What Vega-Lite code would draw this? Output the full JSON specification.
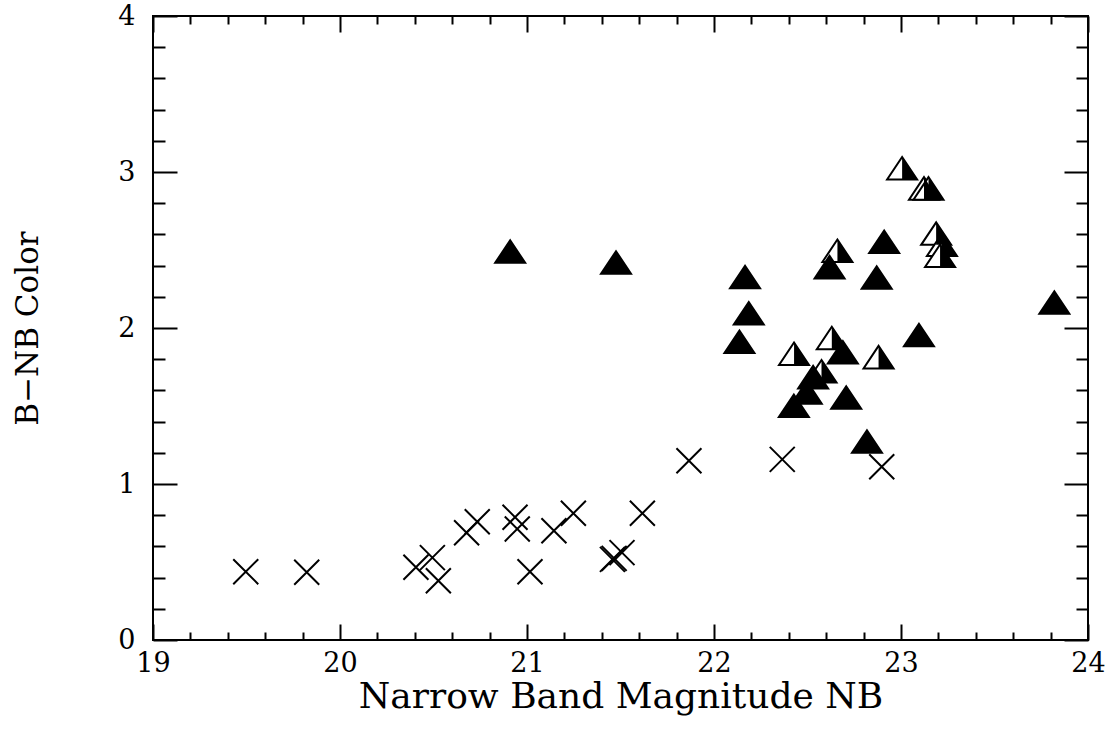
{
  "$schema": "https://vega.github.io/schema/vega-lite/v6.json",
  "width": 935,
  "height": 624,
  "autosize": "none",
  "padding": {"left": 153, "top": 16, "right": 28, "bottom": 95},
  "background": "white",
  "config": {
    "view": {"stroke": "black", "strokeWidth": 2},
    "axis": {"grid": false, "domain": false}
  },
  "data": {
    "values": [
      {"nb": 19.496, "color": 0.438, "type": "cross"},
      {"nb": 19.822, "color": 0.434, "type": "cross"},
      {"nb": 20.406, "color": 0.466, "type": "cross"},
      {"nb": 20.494, "color": 0.528, "type": "cross"},
      {"nb": 20.526, "color": 0.38, "type": "cross"},
      {"nb": 20.677, "color": 0.688, "type": "cross"},
      {"nb": 20.734, "color": 0.758, "type": "cross"},
      {"nb": 20.936, "color": 0.787, "type": "cross"},
      {"nb": 20.948, "color": 0.712, "type": "cross"},
      {"nb": 21.016, "color": 0.438, "type": "cross"},
      {"nb": 21.144, "color": 0.7, "type": "cross"},
      {"nb": 21.248, "color": 0.812, "type": "cross"},
      {"nb": 21.457, "color": 0.517, "type": "cross"},
      {"nb": 21.466, "color": 0.523, "type": "cross"},
      {"nb": 21.508, "color": 0.56, "type": "cross"},
      {"nb": 21.617, "color": 0.812, "type": "cross"},
      {"nb": 21.866, "color": 1.149, "type": "cross"},
      {"nb": 22.365, "color": 1.158, "type": "cross"},
      {"nb": 22.897, "color": 1.111, "type": "cross"},
      {"nb": 23.006, "color": 3.024, "type": "half"},
      {"nb": 23.123, "color": 2.895, "type": "half"},
      {"nb": 23.147, "color": 2.895, "type": "half"},
      {"nb": 23.188, "color": 2.605, "type": "half"},
      {"nb": 23.219, "color": 2.534, "type": "half"},
      {"nb": 23.209, "color": 2.463, "type": "half"},
      {"nb": 22.66, "color": 2.495, "type": "half"},
      {"nb": 22.63, "color": 1.936, "type": "half"},
      {"nb": 22.428, "color": 1.835, "type": "half"},
      {"nb": 22.88, "color": 1.813, "type": "half"},
      {"nb": 22.575, "color": 1.723, "type": "half"},
      {"nb": 20.91, "color": 2.49, "type": "full"},
      {"nb": 21.476, "color": 2.42, "type": "full"},
      {"nb": 22.166, "color": 2.327, "type": "full"},
      {"nb": 22.186, "color": 2.095, "type": "full"},
      {"nb": 22.136, "color": 1.912, "type": "full"},
      {"nb": 22.618, "color": 2.39, "type": "full"},
      {"nb": 22.91, "color": 2.553, "type": "full"},
      {"nb": 22.87, "color": 2.324, "type": "full"},
      {"nb": 23.096, "color": 1.955, "type": "full"},
      {"nb": 23.82, "color": 2.163, "type": "full"},
      {"nb": 22.689, "color": 1.845, "type": "full"},
      {"nb": 22.53, "color": 1.685, "type": "full"},
      {"nb": 22.496, "color": 1.587, "type": "full"},
      {"nb": 22.427, "color": 1.501, "type": "full"},
      {"nb": 22.707, "color": 1.554, "type": "full"},
      {"nb": 22.818, "color": 1.272, "type": "full"}
    ]
  },
  "layer": [
    {
      "transform": [{"filter": "datum.type === 'cross'"}],
      "mark": {"type": "point", "shape": "M-1,-1L1,1M-1,1L1,-1", "filled": false, "color": "black", "strokeWidth": 2, "opacity": 1, "size": 625},
      "encoding": {
        "x": {
          "field": "nb", "type": "quantitative",
          "scale": {"domain": [19, 24], "nice": false, "zero": false},
          "axis": {
            "orient": "bottom", "values": [19, 20, 21, 22, 23, 24], "ticks": false, "domain": false,
            "labelPadding": 10, "labelFont": "DejaVu Serif", "labelFontSize": 27, "labelColor": "black",
            "labelFlush": false, "labelOverlap": false,
            "title": "Narrow Band Magnitude NB", "titleFont": "DejaVu Serif", "titleFontSize": 36,
            "titleFontWeight": "normal", "titleColor": "black", "titlePadding": 3
          }
        },
        "y": {
          "field": "color", "type": "quantitative",
          "scale": {"domain": [0, 4], "nice": false, "zero": false},
          "axis": {
            "orient": "left", "values": [0, 1, 2, 3, 4], "ticks": false, "domain": false,
            "labelPadding": 18, "labelFont": "DejaVu Serif", "labelFontSize": 27, "labelColor": "black",
            "labelFlush": false, "labelOverlap": false,
            "title": "B−NB Color", "titleFont": "DejaVu Serif", "titleFontSize": 31,
            "titleFontWeight": "normal", "titleColor": "black", "titlePadding": 73
          }
        }
      }
    },
    {
      "transform": [{"filter": "datum.type === 'half'"}],
      "mark": {"type": "point", "shape": "M0,-0.75L1,0.75L-1,0.75Z", "fill": "white", "stroke": "black", "strokeWidth": 2, "opacity": 1, "size": 900},
      "encoding": {
        "x": {
          "field": "nb", "type": "quantitative",
          "scale": {"domain": [19, 24], "nice": false, "zero": false},
          "axis": {
            "orient": "bottom", "labels": false, "title": null, "domain": false,
            "values": [19, 19.2, 19.4, 19.6, 19.8, 20, 20.2, 20.4, 20.6, 20.8, 21, 21.2, 21.4, 21.6, 21.8, 22, 22.2, 22.4, 22.6, 22.8, 23, 23.2, 23.4, 23.6, 23.8, 24],
            "tickColor": "black", "tickWidth": 2,
            "tickSize": {"condition": {"test": "abs(datum.value - round(datum.value)) < 0.001", "value": -16}, "value": -8}
          }
        },
        "y": {
          "field": "color", "type": "quantitative",
          "scale": {"domain": [0, 4], "nice": false, "zero": false},
          "axis": {
            "orient": "left", "labels": false, "title": null, "domain": false,
            "values": [0, 0.2, 0.4, 0.6, 0.8, 1, 1.2, 1.4, 1.6, 1.8, 2, 2.2, 2.4, 2.6, 2.8, 3, 3.2, 3.4, 3.6, 3.8, 4],
            "tickColor": "black", "tickWidth": 2,
            "tickSize": {"condition": {"test": "abs(datum.value - round(datum.value)) < 0.001", "value": -24}, "value": -12}
          }
        }
      }
    },
    {
      "transform": [{"filter": "datum.type === 'half'"}],
      "mark": {"type": "point", "shape": "M0,-0.75L1,0.75L0,0.75Z", "fill": "black", "strokeWidth": 0, "opacity": 1, "size": 900},
      "encoding": {
        "x": {
          "field": "nb", "type": "quantitative",
          "scale": {"domain": [19, 24], "nice": false, "zero": false},
          "axis": {
            "orient": "top", "labels": false, "title": null, "domain": false,
            "values": [19, 19.2, 19.4, 19.6, 19.8, 20, 20.2, 20.4, 20.6, 20.8, 21, 21.2, 21.4, 21.6, 21.8, 22, 22.2, 22.4, 22.6, 22.8, 23, 23.2, 23.4, 23.6, 23.8, 24],
            "tickColor": "black", "tickWidth": 2,
            "tickSize": {"condition": {"test": "abs(datum.value - round(datum.value)) < 0.001", "value": -16}, "value": -8}
          }
        },
        "y": {
          "field": "color", "type": "quantitative",
          "scale": {"domain": [0, 4], "nice": false, "zero": false},
          "axis": {
            "orient": "right", "labels": false, "title": null, "domain": false,
            "values": [0, 0.2, 0.4, 0.6, 0.8, 1, 1.2, 1.4, 1.6, 1.8, 2, 2.2, 2.4, 2.6, 2.8, 3, 3.2, 3.4, 3.6, 3.8, 4],
            "tickColor": "black", "tickWidth": 2,
            "tickSize": {"condition": {"test": "abs(datum.value - round(datum.value)) < 0.001", "value": -24}, "value": -12}
          }
        }
      }
    },
    {
      "transform": [{"filter": "datum.type === 'full'"}],
      "mark": {"type": "point", "shape": "M0,-0.75L1,0.75L-1,0.75Z", "fill": "black", "stroke": "black", "strokeWidth": 2, "opacity": 1, "size": 900},
      "encoding": {
        "x": {"field": "nb", "type": "quantitative", "scale": {"domain": [19, 24], "nice": false, "zero": false}, "axis": null},
        "y": {"field": "color", "type": "quantitative", "scale": {"domain": [0, 4], "nice": false, "zero": false}, "axis": null}
      }
    }
  ],
  "resolve": {"axis": {"x": "independent", "y": "independent"}}
}
